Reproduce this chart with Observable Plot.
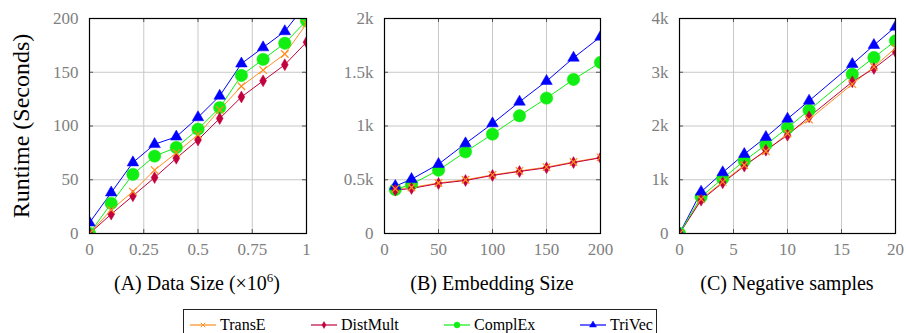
<!DOCTYPE html>
<html><head><meta charset="utf-8">
<script src="https://cdn.jsdelivr.net/npm/d3@7"></script>
<script src="https://cdn.jsdelivr.net/npm/@observablehq/plot@0.6"></script>
<style>
body{margin:0;background:#fff;}
#root{position:relative;width:906px;height:333px;overflow:hidden;font-family:"Liberation Serif","Times New Roman",serif;color:#000;}
.panel{position:absolute;top:0;}
.xl{position:absolute;font-size:20px;white-space:nowrap;transform:translate(-50%,-50%);}
.xl sup{font-size:13px;vertical-align:8px;line-height:0;}
#legend{position:absolute;left:183px;top:309px;width:474px;height:40px;border:1px solid #222;box-sizing:border-box;}
.li{position:absolute;top:15px;transform:translateY(-50%);font-size:16px;display:flex;align-items:center;white-space:nowrap;}
.li svg{margin-right:4px;}
</style></head><body>
<div id="root"></div>
<script>
// ---- data ----
const series = ["TransE", "DistMult", "ComplEx", "TriVec"];
const colors = ["#ff8f1f", "#c2003e", "#11ee11", "#0000ff"];
const symbols = ["times", "diamond", "circle", "triangle"];

const xA = [0, 0.1, 0.2, 0.3, 0.4, 0.5, 0.6, 0.7, 0.8, 0.9, 1.0];
const transEA   = [0, 22, 39, 59, 75, 92, 115, 137, 152, 167, 195];
const distMultA = [0, 18, 35, 52, 70, 87, 107, 127, 142, 157, 178];
const complExA  = [0, 28, 55, 72, 80, 97, 117, 147, 162, 177, 198];
const triVecA   = [10, 38, 66, 83, 90, 108, 128, 158, 173, 188, 214];

const xB = [10, 25, 50, 75, 100, 125, 150, 175, 200];
const transEB   = [415, 428, 470, 500, 545, 582, 618, 665, 708];
const distMultB = [403, 419, 465, 493, 540, 577, 611, 660, 704];
const complExB  = [409, 459, 589, 760, 924, 1095, 1259, 1433, 1591];
const triVecB   = [440, 505, 645, 837, 1023, 1225, 1417, 1634, 1829];

const xC = [0, 2, 4, 6, 8, 10, 12, 16, 18, 20];
const transEC   = [0, 640, 960, 1270, 1530, 1860, 2120, 2780, 3100, 3450];
const distMultC = [0, 620, 943, 1253, 1550, 1829, 2170, 2822, 3070, 3380];
const complExC  = [0, 682, 1023, 1352, 1650, 1966, 2295, 2964, 3274, 3584];
const triVecC   = [0, 775, 1135, 1476, 1792, 2133, 2468, 3150, 3504, 3845];

const xTicksA = [0, 0.25, 0.5, 0.75, 1];
const yTicksA = [0, 50, 100, 150, 200];
const xTicksB = [0, 50, 100, 150, 200];
const yTicksB = [0, 500, 1000, 1500, 2000];
const yLabelsB = ["0", "0.5k", "1k", "1.5k", "2k"];
const xTicksC = [0, 5, 10, 15, 20];
const yTicksC = [0, 1000, 2000, 3000, 4000];
const yLabelsC = ["0", "1k", "2k", "3k", "4k"];

const labelA = "(A) Data Size (×10<sup>6</sup>)";
const labelB = "(B) Embedding Size";
const labelC = "(C) Negative samples";
const yLabel = "Runtime (Seconds)";

function rows(xs, arrs){
  const out=[];
  // draw order: TransE, DistMult, TriVec, ComplEx
  [0,1,3,2].forEach(si=>{
    xs.forEach((x,i)=>out.push({x, y:arrs[si][i], s:series[si]}));
  });
  return out;
}

const root = document.getElementById("root");
const font = "'Liberation Serif','Times New Roman',serif";
const rSize = {TransE:3.5, DistMult:3.6, ComplEx:6.2, TriVec:4.3};

function panel({left, width, mL, mR, xDom, yDom, xTicks, yTicks, yFmt, xFmt, data}){
  const H=300, mT=18, mB=67;
  const dy = (yDom[1]-yDom[0])*4/215;
  const dx = (xDom[1]-xDom[0])*4/216;
  const marks = [
    Plot.gridX(xTicks.slice(1,-1), {stroke:"#c8c8c8", strokeOpacity:1, strokeWidth:1}),
    Plot.gridY(yTicks.slice(1,-1), {stroke:"#c8c8c8", strokeOpacity:1, strokeWidth:1}),
    Plot.ruleX(xTicks.slice(1,-1), {y1:yDom[0], y2:yDom[0]+dy, stroke:"#555"}),
    Plot.ruleX(xTicks.slice(1,-1), {y1:yDom[1], y2:yDom[1]-dy, stroke:"#555"}),
    Plot.ruleY(yTicks.slice(1,-1), {x1:xDom[0], x2:xDom[0]+dx, stroke:"#555"}),
    Plot.ruleY(yTicks.slice(1,-1), {x1:xDom[1], x2:xDom[1]-dx, stroke:"#555"}),
    Plot.axisX(xTicks, {tickSize:0, tickPadding:9, tickFormat:xFmt, fontSize:17, fill:"#808080", fontFamily:font, label:null}),
    Plot.axisY(yTicks, {tickSize:0, tickPadding:11, tickFormat:yFmt, fontSize:17, fill:"#808080", fontFamily:font, label:null}),
    Plot.line(data, {x:"x", y:"y", z:"s", stroke:"s", strokeWidth:1, clip:true}),
    Plot.dot(data, {x:"x", y:"y", symbol:"s", fill:"s", stroke:"s", strokeWidth:d=>d.s==="TransE"?1.2:0.5, r:d=>rSize[d.s], clip:true}),
    Plot.frame({stroke:"#000", strokeWidth:1.2})
  ];
  const svg = Plot.plot({
    width, height:H, marginLeft:mL, marginRight:mR, marginTop:mT, marginBottom:mB,
    style:{fontFamily:font, background:"transparent", overflow:"visible"},
    x:{domain:xDom, axis:null}, y:{domain:yDom, axis:null},
    r:{type:"identity"},
    color:{domain:series, range:colors},
    symbol:{domain:series, range:symbols},
    marks
  });
  svg.classList.add("panel");
  svg.style.left = left+"px";
  root.appendChild(svg);
}

panel({left:0, width:320, mL:89, mR:14, xDom:[0,1], yDom:[0,200], xTicks:xTicksA, yTicks:yTicksA, xFmt:d=>String(d), yFmt:d=>String(d),
  data:rows(xA,[transEA,distMultA,complExA,triVecA])});
panel({left:300, width:320, mL:84, mR:20, xDom:[0,200], yDom:[0,2000], xTicks:xTicksB, yTicks:yTicksB, xFmt:d=>String(d), yFmt:(d,i)=>yLabelsB[i],
  data:rows(xB,[transEB,distMultB,complExB,triVecB])});
panel({left:600, width:306, mL:79, mR:11, xDom:[0,20], yDom:[0,4000], xTicks:xTicksC, yTicks:yTicksC, xFmt:d=>String(d), yFmt:(d,i)=>yLabelsC[i],
  data:rows(xC,[transEC,distMultC,complExC,triVecC])});

// axis labels
function addLabel(html, cx, cy){
  const d=document.createElement("div"); d.className="xl"; d.innerHTML=html;
  d.style.left=cx+"px"; d.style.top=cy+"px"; root.appendChild(d);
}
addLabel(labelA, 197, 283);
addLabel(labelB, 492, 283);
addLabel(labelC, 787, 283);
const yl=document.createElement("div");
yl.textContent=yLabel;
yl.style.cssText="position:absolute;font-size:24px;white-space:nowrap;left:21px;top:126px;transform:translate(-50%,-50%) rotate(-90deg);";
root.appendChild(yl);

// legend
const leg=document.createElement("div"); leg.id="legend"; root.appendChild(leg);
const legX=[6, 127, 260, 396];
const symFn={times:d3.symbolTimes,diamond:d3.symbolDiamond,circle:d3.symbolCircle,triangle:d3.symbolTriangle};
const legSize=[14, 14, 28, 21];
series.forEach((s,i)=>{
  const it=document.createElement("div"); it.className="li"; it.style.left=legX[i]+"px";
  const sym = d3.symbol(symFn[symbols[i]], legSize[i])();
  it.innerHTML=`<svg width="26" height="12"><line x1="0" x2="26" y1="6" y2="6" stroke="${colors[i]}" stroke-width="1.2"/><path transform="translate(13,6)" d="${sym}" fill="${colors[i]}" stroke="${colors[i]}" stroke-width="${i===0?1:0.5}"/></svg><span>${s}</span>`;
  leg.appendChild(it);
});
</script>
</body></html>
